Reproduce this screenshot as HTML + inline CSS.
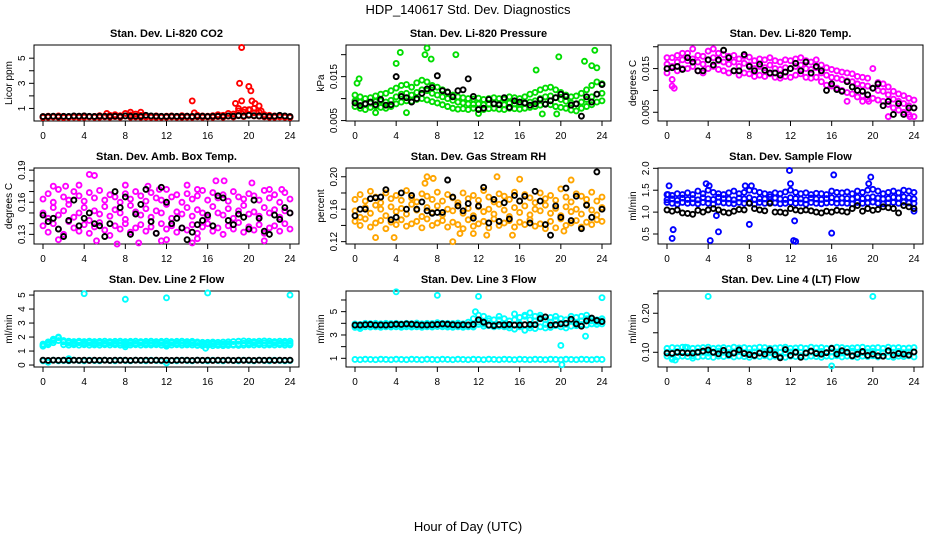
<!DOCTYPE html>
<html><head><meta charset="utf-8">
<style>
html,body{margin:0;padding:0;background:#fff;}
svg{display:block;font-family:"Liberation Sans",Arial,sans-serif;}
</style></head>
<body>
<svg id="chart" width="936" height="540" viewBox="0 0 936 540" xmlns="http://www.w3.org/2000/svg">
<text x="468" y="14" text-anchor="middle" font-size="13">HDP_140617  Std. Dev. Diagnostics</text>
<text x="468" y="531" text-anchor="middle" font-size="13">Hour of Day (UTC)</text>
</svg>
<script>
// ---------- shared x categories ----------
const hours = [0,0.5,1,1.5,2,2.5,3,3.5,4,4.5,5,5.5,6,6.5,7,7.5,8,8.5,9,9.5,10,10.5,11,11.5,12,12.5,13,13.5,14,14.5,15,15.5,16,16.5,17,17.5,18,18.5,19,19.5,20,20.5,21,21.5,22,22.5,23,23.5,24];
const xTicks = [0,4,8,12,16,20,24];
const xTickLabels = ["0","4","8","12","16","20","24"];

// ---------- CO2 ----------
const co2Main = [0.35,0.38,0.33,0.4,0.36,0.34,0.38,0.37,0.4,0.35,0.36,0.42,0.38,0.45,0.5,0.42,0.6,0.48,0.55,0.45,0.42,0.38,0.4,0.36,0.38,0.4,0.35,0.42,0.38,0.36,0.45,0.4,0.38,0.42,0.5,0.45,0.6,0.55,0.8,0.7,0.9,0.65,0.7,0.5,0.45,0.4,0.42,0.38,0.35];
const co2Low = [0.28,0.3,0.32,0.3,0.28,0.3,0.31,0.29,0.3,0.32,0.3,0.3,0.33,0.3,0.35,0.3,0.4,0.3,0.32,0.3,0.31,0.3,0.29,0.3,0.3,0.32,0.3,0.3,0.31,0.3,0.33,0.3,0.32,0.3,0.35,0.3,0.38,0.32,0.45,0.35,0.5,0.4,0.38,0.33,0.3,0.3,0.32,0.3,0.28];
const co2OutX = [14.5,18.7,19.3,19.1,19.3,20.0,20.2,20.3,20.6,21.0,20.5,19.6,20.1,19.0,21.2,8.5,9.5,6.2,14.7];
const co2OutY = [1.6,1.4,5.85,3.0,1.6,2.75,2.4,1.6,1.4,1.2,1.0,0.9,0.9,1.0,0.8,0.7,0.7,0.6,0.65];
const co2Black = [0.35,0.36,0.38,0.35,0.37,0.36,0.4,0.38,0.4,0.37,0.36,0.38,0.37,0.36,0.38,0.36,0.4,0.37,0.38,0.36,0.45,0.4,0.38,0.37,0.36,0.38,0.37,0.36,0.38,0.36,0.37,0.38,0.36,0.37,0.38,0.36,0.4,0.38,0.42,0.4,0.45,0.42,0.4,0.38,0.37,0.38,0.45,0.4,0.35];
const co2YTicks = [1,2,3,4,5];
const co2YLabels = ["1","","3","","5"];

// ---------- Pressure ----------
const presMain = [0.0095,0.0092,0.0088,0.0090,0.0093,0.0095,0.0092,0.0096,0.0104,0.0110,0.0112,0.0108,0.0114,0.0120,0.0118,0.0112,0.0108,0.0104,0.0100,0.0096,0.0092,0.0090,0.0088,0.0087,0.0088,0.0086,0.0087,0.0089,0.0088,0.0086,0.0090,0.0088,0.0087,0.0089,0.0092,0.0095,0.0100,0.0104,0.0106,0.0102,0.0098,0.0094,0.0090,0.0088,0.0092,0.0098,0.0104,0.0110,0.0112];
const presLow = [0.0082,0.0078,0.0075,0.0080,0.0082,0.0080,0.0078,0.0082,0.0088,0.0092,0.0095,0.0094,0.0098,0.0100,0.0097,0.0093,0.0090,0.0086,0.0082,0.0078,0.0076,0.0077,0.0075,0.0078,0.0076,0.0075,0.0077,0.0078,0.0076,0.0075,0.0078,0.0077,0.0076,0.0078,0.0080,0.0082,0.0085,0.0088,0.0086,0.0082,0.0080,0.0078,0.0074,0.0072,0.0078,0.0082,0.0086,0.0092,0.0095];
const presHigh = [0.0108,0.0104,0.0100,0.0102,0.0106,0.0110,0.0112,0.0118,0.0124,0.0130,0.0132,0.0126,0.0136,0.0142,0.0138,0.0130,0.0126,0.0120,0.0114,0.0108,0.0104,0.0102,0.0100,0.0099,0.0101,0.0098,0.0100,0.0102,0.0100,0.0099,0.0104,0.0102,0.0100,0.0104,0.0110,0.0114,0.0120,0.0124,0.0126,0.0120,0.0114,0.0108,0.0104,0.0106,0.0112,0.0120,0.0130,0.0138,0.0134];
const presOutX = [0.2,0.4,4.4,4.0,7.0,6.8,7.4,9.8,19.8,22.3,23.3,23.9,17.6,23.5,23.0,19.6,18.2,2.0,5.0,12.0];
const presOutY = [0.0135,0.0145,0.0205,0.018,0.0215,0.020,0.019,0.020,0.0195,0.0185,0.021,0.0225,0.0165,0.017,0.0175,0.0065,0.0065,0.0068,0.0068,0.0066];
const presBlack = [0.0090,0.0084,0.0088,0.0092,0.0086,0.0098,0.0085,0.0086,0.0150,0.0105,0.0102,0.0092,0.0100,0.0112,0.0122,0.0125,0.0152,0.0118,0.0115,0.0104,0.0118,0.0120,0.0145,0.0105,0.0075,0.0078,0.0098,0.0088,0.0086,0.0102,0.0080,0.0095,0.0092,0.0090,0.0085,0.0088,0.0098,0.0087,0.0095,0.0102,0.0110,0.0105,0.0085,0.0088,0.0060,0.0104,0.0092,0.0110,0.0132];
const presYTicks = [0.005,0.010,0.015,0.020];
const presYLabels = ["0.005","","0.015",""];

// ---------- Li-820 Temp ----------
const tempMain = [0.0160,0.0155,0.0165,0.0170,0.0168,0.0172,0.0165,0.0160,0.0170,0.0175,0.0168,0.0165,0.0160,0.0165,0.0155,0.0162,0.0158,0.0150,0.0155,0.0152,0.0158,0.0150,0.0148,0.0152,0.0150,0.0155,0.0158,0.0150,0.0148,0.0152,0.0140,0.0135,0.0130,0.0128,0.0125,0.0122,0.0120,0.0115,0.0112,0.0110,0.0105,0.0100,0.0098,0.0090,0.0080,0.0075,0.0070,0.0065,0.0060];
const tempLow = [0.0140,0.0125,0.0145,0.0150,0.0150,0.0155,0.0145,0.0140,0.0150,0.0155,0.0148,0.0145,0.0140,0.0145,0.0135,0.0140,0.0138,0.0132,0.0135,0.0132,0.0138,0.0130,0.0128,0.0132,0.0130,0.0135,0.0138,0.0130,0.0128,0.0130,0.0120,0.0112,0.0110,0.0105,0.0100,0.0095,0.0092,0.0085,0.0088,0.0080,0.0082,0.0078,0.0075,0.0068,0.0060,0.0055,0.0050,0.0045,0.0040];
const tempHigh = [0.0175,0.0175,0.0180,0.0185,0.0185,0.0195,0.0180,0.0178,0.0190,0.0195,0.0185,0.0182,0.0178,0.0180,0.0172,0.0178,0.0176,0.0168,0.0172,0.0170,0.0175,0.0168,0.0165,0.0170,0.0168,0.0172,0.0175,0.0168,0.0165,0.0170,0.0158,0.0152,0.0148,0.0145,0.0142,0.0140,0.0138,0.0132,0.0130,0.0128,0.0150,0.0118,0.0115,0.0108,0.0098,0.0092,0.0088,0.0082,0.0078];
const tempOutX = [0.5,0.7,17.5,19.0,19.6,21.5,23.6];
const tempOutY = [0.0110,0.0105,0.0075,0.0075,0.0075,0.0040,0.0040];
const tempBlack = [0.0150,0.0152,0.0155,0.0148,0.0175,0.0165,0.0145,0.0145,0.0170,0.0158,0.0170,0.0192,0.0175,0.0145,0.0145,0.0182,0.0155,0.0145,0.0160,0.0146,0.0140,0.0140,0.0135,0.0142,0.0150,0.0162,0.0145,0.0165,0.0140,0.0155,0.0145,0.0100,0.0115,0.0102,0.0098,0.0120,0.0108,0.0100,0.0098,0.0090,0.0105,0.0115,0.0065,0.0075,0.0045,0.0070,0.0045,0.0060,0.0060];
const tempYTicks = [0.005,0.010,0.015,0.020];
const tempYLabels = ["0.005","","0.015",""];

// ---------- Amb Box Temp ----------
const ambMain = [0.150,0.145,0.155,0.148,0.152,0.158,0.146,0.150,0.155,0.143,0.152,0.149,0.156,0.147,0.153,0.150,0.144,0.157,0.151,0.148,0.154,0.146,0.152,0.150,0.158,0.145,0.151,0.149,0.155,0.147,0.153,0.150,0.146,0.156,0.150,0.148,0.154,0.145,0.152,0.157,0.149,0.151,0.147,0.155,0.150,0.153,0.146,0.152,0.150];
const ambLow = [0.138,0.132,0.140,0.135,0.130,0.142,0.136,0.133,0.139,0.131,0.137,0.141,0.134,0.129,0.138,0.135,0.140,0.132,0.136,0.139,0.133,0.137,0.131,0.140,0.135,0.138,0.132,0.136,0.134,0.139,0.131,0.137,0.140,0.133,0.136,0.130,0.138,0.135,0.141,0.132,0.137,0.134,0.139,0.131,0.136,0.138,0.133,0.140,0.135];
const ambHigh = [0.163,0.168,0.160,0.172,0.165,0.162,0.170,0.166,0.161,0.169,0.164,0.171,0.162,0.167,0.165,0.160,0.168,0.163,0.170,0.166,0.161,0.169,0.164,0.162,0.172,0.165,0.167,0.160,0.168,0.163,0.166,0.171,0.162,0.169,0.164,0.167,0.161,0.170,0.165,0.163,0.168,0.166,0.162,0.171,0.164,0.167,0.160,0.169,0.163];
const ambOutX = [1.0,2.2,3.5,4.5,5.0,8.0,9.6,10.2,11.3,14.0,15.0,16.8,17.6,20.3,22.0,23.2,1.5,3.5,5.2,6.0,6.5,9.3,11.5,14.5,15.0,18.8,21.5,7.2,12.0];
const ambOutY = [0.175,0.175,0.176,0.186,0.185,0.176,0.193,0.175,0.172,0.176,0.172,0.180,0.180,0.178,0.172,0.172,0.125,0.118,0.124,0.120,0.117,0.122,0.124,0.122,0.126,0.119,0.124,0.121,0.125];
const ambBlack = [0.148,0.142,0.145,0.135,0.128,0.143,0.162,0.138,0.145,0.150,0.140,0.138,0.128,0.140,0.170,0.155,0.165,0.130,0.149,0.158,0.172,0.142,0.131,0.174,0.160,0.140,0.145,0.136,0.125,0.132,0.139,0.143,0.148,0.138,0.166,0.164,0.143,0.139,0.149,0.146,0.135,0.162,0.145,0.133,0.130,0.148,0.144,0.155,0.150];
const ambYTicks = [0.13,0.14,0.15,0.16,0.17,0.18,0.19];
const ambYLabels = ["0.13","","","0.16","","","0.19"];

// ---------- Gas Stream RH ----------
const rhMain = [0.158,0.150,0.162,0.155,0.165,0.160,0.152,0.163,0.157,0.161,0.154,0.166,0.159,0.151,0.162,0.156,0.164,0.153,0.160,0.158,0.165,0.155,0.161,0.152,0.163,0.157,0.160,0.154,0.166,0.159,0.151,0.162,0.156,0.164,0.153,0.160,0.158,0.165,0.155,0.161,0.152,0.163,0.157,0.160,0.154,0.166,0.159,0.153,0.162];
const rhLow = [0.145,0.140,0.148,0.138,0.143,0.146,0.136,0.144,0.141,0.147,0.139,0.142,0.145,0.137,0.148,0.140,0.143,0.146,0.138,0.144,0.141,0.136,0.147,0.139,0.142,0.145,0.137,0.148,0.140,0.143,0.146,0.138,0.144,0.141,0.147,0.139,0.142,0.136,0.145,0.137,0.148,0.140,0.143,0.146,0.138,0.144,0.141,0.147,0.145];
const rhHigh = [0.172,0.178,0.170,0.182,0.175,0.168,0.180,0.173,0.177,0.171,0.183,0.174,0.169,0.179,0.176,0.172,0.181,0.170,0.178,0.174,0.168,0.180,0.173,0.177,0.171,0.183,0.175,0.169,0.179,0.176,0.172,0.181,0.170,0.178,0.174,0.168,0.180,0.173,0.177,0.171,0.185,0.175,0.169,0.179,0.176,0.172,0.181,0.170,0.175];
const rhOutX = [2.0,3.8,7.0,7.6,6.8,9.5,10.2,11.5,13.8,13.2,15.3,15.8,16.0,18.0,20.3,21.0,12.8];
const rhOutY = [0.125,0.125,0.200,0.198,0.192,0.120,0.130,0.130,0.200,0.214,0.128,0.216,0.197,0.211,0.133,0.196,0.128];
const rhBlack = [0.152,0.160,0.160,0.173,0.174,0.175,0.184,0.147,0.150,0.180,0.160,0.177,0.160,0.169,0.158,0.155,0.156,0.156,0.196,0.175,0.164,0.158,0.167,0.149,0.164,0.187,0.143,0.172,0.145,0.168,0.148,0.177,0.170,0.176,0.143,0.182,0.170,0.141,0.128,0.164,0.150,0.186,0.146,0.176,0.136,0.165,0.150,0.206,0.160];
const rhYTicks = [0.12,0.14,0.16,0.18,0.20];
const rhYLabels = ["0.12","","0.16","","0.20"];

// ---------- Sample Flow ----------
const sfMain = [1.28,1.30,1.27,1.32,1.29,1.31,1.28,1.33,1.30,1.29,1.34,1.31,1.30,1.28,1.32,1.30,1.33,1.29,1.31,1.30,1.35,1.32,1.30,1.29,1.33,1.31,1.30,1.28,1.32,1.30,1.29,1.31,1.33,1.30,1.32,1.31,1.30,1.34,1.31,1.33,1.35,1.32,1.30,1.31,1.34,1.32,1.35,1.33,1.30];
const sfLow = [1.22,1.20,1.18,1.22,1.20,1.21,1.19,1.22,1.20,1.18,1.23,1.21,1.20,1.19,1.22,1.20,1.21,1.18,1.22,1.20,1.23,1.21,1.19,1.20,1.22,1.20,1.21,1.18,1.22,1.20,1.19,1.21,1.22,1.20,1.21,1.20,1.19,1.22,1.20,1.21,1.23,1.20,1.19,1.21,1.22,1.20,1.23,1.21,1.20];
const sfHigh = [1.40,1.38,1.42,1.40,1.44,1.40,1.48,1.42,1.50,1.45,1.42,1.40,1.44,1.48,1.42,1.45,1.50,1.48,1.45,1.42,1.40,1.44,1.42,1.46,1.50,1.45,1.42,1.44,1.40,1.43,1.42,1.40,1.48,1.45,1.44,1.46,1.42,1.48,1.45,1.50,1.52,1.48,1.42,1.45,1.48,1.44,1.50,1.48,1.45];
const sfOutX = [0.2,0.1,0.5,0.6,3.8,4.1,4.2,5.0,4.8,8.0,11.9,12.0,12.4,12.3,12.5,16.2,16.0,19.8,19.6,24.0,7.6,8.2];
const sfOutY = [1.6,1.4,0.4,0.6,1.65,1.6,0.35,0.55,0.92,0.72,1.95,1.65,0.8,0.35,0.33,1.85,0.52,1.8,1.65,1.02,1.6,1.6];
const sfBlack = [1.05,1.02,1.05,0.98,0.97,0.95,1.04,1.00,1.05,1.08,1.05,1.00,0.98,1.02,1.06,1.05,1.20,1.08,1.05,1.03,1.20,1.00,1.00,0.98,1.08,1.05,1.03,1.05,1.03,1.00,0.98,1.02,1.00,1.04,1.02,1.00,1.08,1.15,1.02,1.08,1.04,1.06,1.12,1.10,1.08,0.98,1.15,1.12,1.08];
const sfYTicks = [0.5,1.0,1.5,2.0];
const sfYLabels = ["0.5","1.0","1.5","2.0"];

// ---------- Line 2 Flow ----------
const l2Main = [1.40,1.55,1.75,1.95,1.65,1.58,1.55,1.60,1.55,1.58,1.55,1.57,1.55,1.58,1.55,1.56,1.55,1.57,1.55,1.58,1.55,1.56,1.55,1.57,1.55,1.58,1.55,1.56,1.55,1.57,1.55,1.50,1.50,1.52,1.48,1.50,1.52,1.48,1.50,1.55,1.55,1.58,1.55,1.57,1.55,1.58,1.55,1.56,1.55];
const l2Low = [1.35,1.45,1.60,1.75,1.45,1.42,1.45,1.42,1.45,1.42,1.44,1.42,1.45,1.43,1.45,1.42,1.44,1.43,1.45,1.42,1.44,1.43,1.45,1.42,1.44,1.43,1.45,1.42,1.44,1.43,1.40,1.38,1.40,1.38,1.40,1.38,1.40,1.42,1.40,1.42,1.44,1.43,1.45,1.42,1.44,1.43,1.45,1.42,1.44];
const l2High = [1.50,1.65,1.85,2.00,1.75,1.70,1.68,1.70,1.68,1.70,1.68,1.69,1.70,1.68,1.69,1.70,1.68,1.69,1.70,1.68,1.69,1.70,1.68,1.69,1.70,1.68,1.69,1.70,1.68,1.69,1.65,1.62,1.62,1.64,1.62,1.64,1.66,1.68,1.70,1.72,1.70,1.68,1.70,1.72,1.70,1.68,1.70,1.69,1.70];
const l2Base = [0.30,0.20,0.35,0.30,0.32,0.30,0.35,0.32,0.30,0.35,0.32,0.30,0.35,0.32,0.30,0.35,0.32,0.30,0.35,0.32,0.30,0.35,0.32,0.30,0.15,0.32,0.30,0.35,0.32,0.30,0.35,0.32,0.30,0.35,0.32,0.30,0.35,0.32,0.30,0.35,0.32,0.30,0.35,0.32,0.30,0.35,0.32,0.30,0.32];
const l2OutX = [4.0,8.0,12.0,16.0,24.0,15.8,8.0,12.0,2.5];
const l2OutY = [5.1,4.7,4.8,5.15,5.0,1.2,1.3,1.35,0.45];
const l2Black = [0.35,0.33,0.35,0.34,0.35,0.33,0.35,0.34,0.35,0.33,0.35,0.34,0.35,0.33,0.35,0.34,0.35,0.33,0.35,0.34,0.35,0.33,0.35,0.34,0.35,0.33,0.35,0.34,0.35,0.33,0.35,0.34,0.35,0.33,0.35,0.34,0.35,0.33,0.35,0.34,0.35,0.33,0.35,0.34,0.35,0.33,0.35,0.34,0.35];
const l2YTicks = [0,1,2,3,4,5];
const l2YLabels = ["0","1","2","3","4","5"];

// ---------- Line 3 Flow ----------
const l3Main = [3.80,3.70,3.85,3.82,3.85,3.80,3.84,3.82,3.85,3.80,3.84,3.82,3.85,3.80,3.84,3.82,3.88,3.85,3.84,3.82,3.85,3.80,3.84,3.82,4.10,3.95,4.20,3.90,4.30,3.95,3.80,4.30,4.00,4.60,3.80,4.20,4.50,3.90,4.10,4.30,4.00,3.90,4.30,4.10,4.20,4.40,4.20,4.10,4.20];
const l3Low = [3.65,3.55,3.70,3.68,3.70,3.66,3.70,3.68,3.70,3.66,3.70,3.68,3.70,3.66,3.70,3.68,3.72,3.70,3.68,3.66,3.70,3.66,3.70,3.68,3.90,3.75,3.80,3.70,3.75,3.70,3.60,3.50,3.70,3.40,3.60,3.55,3.70,3.60,3.65,3.80,3.70,3.60,3.75,3.80,3.90,3.85,3.95,3.90,3.95];
const l3High = [3.95,3.90,4.00,3.98,4.00,3.96,4.00,3.98,4.00,3.96,4.00,3.98,4.02,3.96,4.00,3.98,4.05,4.00,4.00,3.98,4.02,3.96,4.10,4.40,4.70,4.60,4.40,4.30,4.60,4.40,4.20,4.80,4.50,4.70,4.30,4.60,4.70,4.30,4.50,4.60,4.40,4.30,4.60,4.50,4.60,4.70,4.40,4.30,4.40];
const l3Base = [0.90,0.88,0.92,0.90,0.88,0.92,0.90,0.88,0.92,0.90,0.88,0.92,0.90,0.88,0.92,0.90,0.88,0.92,0.90,0.88,0.92,0.90,0.88,0.92,0.90,0.88,0.92,0.90,0.88,0.92,0.90,0.88,0.92,0.90,0.88,0.92,0.90,0.88,0.92,0.90,0.88,0.92,0.90,0.88,0.92,0.90,0.88,0.92,0.90];
const l3OutX = [4.0,8.0,12.0,16.0,24.0,20.0,22.4,20.1,17.0,11.7];
const l3OutY = [6.7,6.4,6.3,6.8,6.2,2.1,2.9,0.45,4.9,5.0];
const l3Black = [3.85,3.85,3.88,3.90,3.85,3.86,3.85,3.88,3.92,3.90,3.95,3.92,3.88,3.85,3.86,3.88,3.90,3.95,3.92,3.88,3.85,3.88,3.86,3.90,4.30,4.10,3.85,3.80,3.88,3.86,3.90,3.85,3.85,3.88,3.90,3.88,4.40,4.55,3.85,3.88,3.95,4.00,4.35,3.95,3.75,4.20,4.45,4.25,4.15];
const l3YTicks = [1,2,3,4,5,6];
const l3YLabels = ["1","","3","","5",""];

// ---------- Line 4 Flow ----------
const l4Main = [0.100,0.098,0.102,0.100,0.101,0.099,0.102,0.100,0.098,0.101,0.103,0.100,0.099,0.101,0.102,0.100,0.099,0.101,0.100,0.102,0.099,0.101,0.100,0.098,0.101,0.102,0.100,0.099,0.101,0.100,0.102,0.099,0.101,0.100,0.098,0.101,0.103,0.100,0.099,0.101,0.102,0.100,0.099,0.101,0.100,0.102,0.099,0.101,0.100];
const l4Low = [0.090,0.086,0.088,0.090,0.089,0.091,0.088,0.090,0.089,0.087,0.090,0.089,0.091,0.088,0.090,0.089,0.087,0.090,0.089,0.091,0.088,0.090,0.089,0.087,0.090,0.089,0.091,0.088,0.090,0.089,0.087,0.090,0.089,0.091,0.088,0.090,0.089,0.087,0.090,0.089,0.091,0.088,0.090,0.089,0.087,0.090,0.089,0.091,0.088];
const l4High = [0.110,0.112,0.111,0.113,0.112,0.110,0.111,0.112,0.113,0.110,0.111,0.112,0.110,0.113,0.111,0.112,0.110,0.111,0.113,0.112,0.110,0.111,0.112,0.113,0.110,0.111,0.112,0.110,0.113,0.111,0.112,0.110,0.111,0.113,0.112,0.110,0.111,0.112,0.113,0.110,0.111,0.112,0.110,0.113,0.111,0.112,0.110,0.111,0.112];
const l4OutX = [4.0,12.0,20.0,16.0,1.8,0.5,0.8,2.5];
const l4OutY = [0.243,0.26,0.243,0.065,0.113,0.082,0.080,0.085];
const l4Black = [0.098,0.097,0.100,0.099,0.098,0.098,0.100,0.103,0.106,0.100,0.096,0.105,0.094,0.098,0.106,0.097,0.094,0.092,0.098,0.095,0.106,0.094,0.086,0.107,0.092,0.100,0.087,0.098,0.103,0.097,0.095,0.099,0.110,0.095,0.104,0.100,0.091,0.095,0.102,0.092,0.095,0.091,0.090,0.104,0.093,0.097,0.095,0.093,0.101];
const l4YTicks = [0.10,0.15,0.20,0.25];
const l4YLabels = ["0.10","","0.20",""];

// ---------- drawing ----------
const svg = document.getElementById('chart');
const NS = 'http://www.w3.org/2000/svg';
function mk(tag, attrs, parent){
  const e = document.createElementNS(NS, tag);
  for (const k in attrs) e.setAttribute(k, attrs[k]);
  (parent||svg).appendChild(e);
  return e;
}

function drawPanel(p){
  const g = mk('g', {});
  
  
  const L = p.left, T = p.top, W = 265, H = 76;
  const xs = h => L + 9 + h * (247/24);
  const ys = v => T + H - (v - p.yMin) / (p.yMax - p.yMin) * H;
  const t = mk('text', {x: L + W/2, y: T - 8, 'text-anchor':'middle', 'font-size':'11', 'font-weight':'bold'}, g);
  t.textContent = p.title;
  
  
  const box = mk('rect', {x:L, y:T, width:W, height:H, fill:'none', stroke:'#000', 'stroke-width':1}, g);
  
  
  const xa = mk('g', {}, g);
  
  
  mk('line', {x1:xs(xTicks[0]), x2:xs(xTicks[xTicks.length-1]), y1:T+H, y2:T+H, stroke:'#000'}, xa);
  xTicks.forEach((v,i)=>{
    mk('line', {x1:xs(v), x2:xs(v), y1:T+H, y2:T+H+5, stroke:'#000'}, xa);
    const tl = mk('text', {x:xs(v), y:T+H+18, 'text-anchor':'middle', 'font-size':'10'}, xa);
    tl.textContent = xTickLabels[i];
    
    
  });
  const ya = mk('g', {}, g);
  
  
  p.yTicks.forEach((v,i)=>{
    const y = ys(v);
    mk('line', {x1:L-5, x2:L, y1:y, y2:y, stroke:'#000'}, ya);
    if (p.yLabels[i]) {
      const tl = mk('text', {x:0, y:0, 'text-anchor':'middle', 'font-size':'10', transform:'translate('+(L-9)+','+y+') rotate(-90)'}, ya);
      tl.textContent = p.yLabels[i];
      
      
    }
  });
  const yt = mk('text', {x:0, y:0, 'text-anchor':'middle', 'font-size':'10', transform:'translate('+(L-22)+','+(T+H/2)+') rotate(-90)'}, g);
  yt.textContent = p.ylab;
  
  
  const pts = mk('g', {}, g);
  
  
  function dot(x, y, color){
    if (y < p.yMin || y > p.yMax) return;
    const c = mk('circle', {cx:xs(x), cy:ys(y), r:2.5, fill:'none', stroke:color, 'stroke-width':1.9}, pts);
    
    
  }
  p.layers.forEach(arr => arr.forEach((v,i)=> dot(hours[i], v, p.color)));
  p.outX.forEach((x,i)=> dot(x, p.outY[i], p.color));
  p.black.forEach((v,i)=> dot(hours[i], v, '#000'));
}

const colL = [34, 346, 658], rowT = [45, 168, 291];
const panels = [
  {name:'panel-co2', title:'Stan. Dev. Li-820 CO2', ylab:'Licor ppm', left:colL[0], top:rowT[0], yMin:0, yMax:6.05, yTicks:co2YTicks, yLabels:co2YLabels, color:'#ff0000', layers:[co2Low, co2Main], outX:co2OutX, outY:co2OutY, black:co2Black},
  {name:'panel-pressure', title:'Stan. Dev. Li-820 Pressure', ylab:'kPa', left:colL[1], top:rowT[0], yMin:0.0049, yMax:0.0222, yTicks:presYTicks, yLabels:presYLabels, color:'#00dd00', layers:[presLow, presHigh, presMain], outX:presOutX, outY:presOutY, black:presBlack},
  {name:'panel-li820-temp', title:'Stan. Dev. Li-820 Temp.', ylab:'degrees C', left:colL[2], top:rowT[0], yMin:0.0030, yMax:0.0204, yTicks:tempYTicks, yLabels:tempYLabels, color:'#ff00ff', layers:[tempLow, tempHigh, tempMain], outX:tempOutX, outY:tempOutY, black:tempBlack},
  {name:'panel-amb-box-temp', title:'Stan. Dev. Amb. Box Temp.', ylab:'degrees C', left:colL[0], top:rowT[1], yMin:0.121, yMax:0.192, yTicks:ambYTicks, yLabels:ambYLabels, color:'#ff00ff', layers:[ambLow, ambHigh, ambMain], outX:ambOutX, outY:ambOutY, black:ambBlack},
  {name:'panel-gas-stream-rh', title:'Stan. Dev. Gas Stream RH', ylab:'percent', left:colL[1], top:rowT[1], yMin:0.1171, yMax:0.2108, yTicks:rhYTicks, yLabels:rhYLabels, color:'#ffa500', layers:[rhLow, rhHigh, rhMain], outX:rhOutX, outY:rhOutY, black:rhBlack},
  {name:'panel-sample-flow', title:'Stan. Dev. Sample Flow', ylab:'ml/min', left:colL[2], top:rowT[1], yMin:0.272, yMax:2.007, yTicks:sfYTicks, yLabels:sfYLabels, color:'#0000ff', layers:[sfLow, sfHigh, sfMain], outX:sfOutX, outY:sfOutY, black:sfBlack},
  {name:'panel-line2-flow', title:'Stan. Dev. Line 2 Flow', ylab:'ml/min', left:colL[0], top:rowT[2], yMin:-0.14, yMax:5.29, yTicks:l2YTicks, yLabels:l2YLabels, color:'#00ffff', layers:[l2Base, l2Low, l2High, l2Main], outX:l2OutX, outY:l2OutY, black:l2Black},
  {name:'panel-line3-flow', title:'Stan. Dev. Line 3 Flow', ylab:'ml/min', left:colL[1], top:rowT[2], yMin:0.255, yMax:6.77, yTicks:l3YTicks, yLabels:l3YLabels, color:'#00ffff', layers:[l3Base, l3Low, l3High, l3Main], outX:l3OutX, outY:l3OutY, black:l3Black},
  {name:'panel-line4-flow', title:'Stan. Dev. Line 4 (LT) Flow', ylab:'ml/min', left:colL[2], top:rowT[2], yMin:0.0623, yMax:0.257, yTicks:l4YTicks, yLabels:l4YLabels, color:'#00ffff', layers:[l4Low, l4High, l4Main], outX:l4OutX, outY:l4OutY, black:l4Black}
];
panels.forEach(drawPanel);
</script>
</body></html>
